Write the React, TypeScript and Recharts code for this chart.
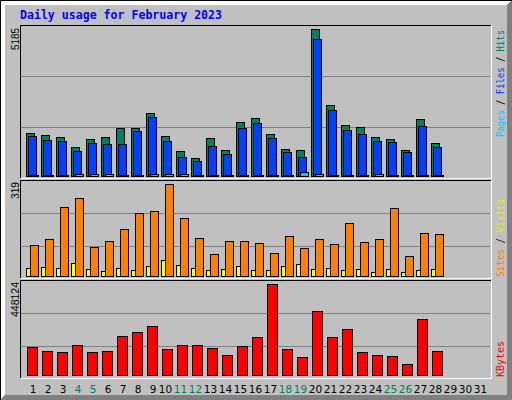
import { BarChart, Bar, XAxis, YAxis, CartesianGrid } from "recharts";

const days = [
  "1", "2", "3", "4", "5", "6", "7", "8", "9", "10", "11", "12", "13", "14", "15", "16",
  "17", "18", "19", "20", "21", "22", "23", "24", "25", "26", "27", "28", "29", "30", "31",
];
const weekendDays = ["4", "5", "11", "12", "18", "19", "25", "26"];

const hits = [1506, 1435, 1365, 1012, 1294, 1365, 1682, 1682, 2211, 1400, 871, 624, 1330, 906, 1894, 2035, 1471, 942, 906, 5185, 2494, 1788, 1718, 1365, 1294, 906, 2000, 1153];
const files = [1376, 1259, 1224, 871, 1153, 1118, 1118, 1577, 2070, 1224, 660, 518, 1047, 765, 1682, 1859, 1330, 836, 660, 4821, 2317, 1612, 1471, 1224, 1189, 836, 1753, 1012];
const pages = [30, 30, 30, 70, 70, 70, 30, 30, 70, 70, 70, 30, 30, 30, 30, 30, 30, 30, 106, 70, 30, 30, 30, 70, 30, 30, 30, 30];
const visits = [25, 29, 25, 43, 22, 15, 25, 18, 32, 53, 36, 25, 18, 22, 32, 18, 18, 32, 39, 22, 25, 18, 22, 12, 22, 12, 18, 22];
const sites = [105, 126, 236, 270, 98, 119, 160, 218, 225, 319, 201, 129, 74, 119, 119, 112, 77, 136, 95, 126, 109, 181, 115, 126, 233, 67, 147, 143];
const kbytes = [134512, 114873, 109825, 144260, 110130, 114902, 188610, 208345, 237920, 124770, 144310, 143985, 129640, 95210, 139380, 183770, 448124, 124930, 85260, 311870, 183950, 223140, 109760, 95080, 90150, 50930, 272410, 114880];

const maxHits = 5185;
const maxVisits = 319;
const maxKbytes = 448124;

const data = days.map((day, i) => ({
  day,
  hits: hits[i],
  files: files[i],
  pages: pages[i],
  visits: visits[i],
  sites: sites[i],
  kbytes: kbytes[i],
}));

const C_HITS = "#00805c";
const C_FILES = "#0040ff";
const C_PAGES = "#00c8ff";
const C_VISITS = "#ffff00";
const C_SITES = "#ff8000";
const C_KBYTES = "#ff0000";
const GRID = "#808080";

function DayTick({ x, y, payload }: any) {
  const label = String(payload.value);
  const dx = label.length === 1 ? 1.5 : -1;
  return (
    <text
      x={x + dx}
      y={y + 18}
      textAnchor="middle"
      fontFamily="DejaVu Sans"
      fontSize={10.5}
      fill={weekendDays.includes(label) ? C_HITS : "#000"}
    >
      {label}
    </text>
  );
}

function UpText({ x, y, anchor, len, children, size = 10, family = "DejaVu Sans Mono" }: any) {
  return (
    <text
      transform={`translate(${x},${y}) rotate(-90)`}
      textAnchor={anchor}
      textLength={len}
      lengthAdjust="spacingAndGlyphs"
      fontFamily={family}
      fontSize={size}
    >
      {children}
    </text>
  );
}

function Frame({ top, bottom }: { top: number; bottom: number }) {
  return (
    <g shapeRendering="crispEdges">
      <line x1={20} y1={top + 0.5} x2={491} y2={top + 0.5} stroke="#000" />
      <line x1={20.5} y1={top} x2={20.5} y2={bottom} stroke="#000" />
      <line x1={491.5} y1={top} x2={491.5} y2={bottom + 1} stroke="#fff" />
      <line x1={21} y1={bottom + 0.5} x2={492} y2={bottom + 0.5} stroke="#fff" />
    </g>
  );
}

export default function App() {
  return (
    <div style={{ position: "relative", width: 512, height: 400, background: "#c0c0c0", overflow: "hidden" }}>
      <style>{"body{margin:0} .recharts-rectangle,.recharts-cartesian-grid line{shape-rendering:crispEdges}"}</style>
      <svg width={512} height={400} style={{ position: "absolute", left: 0, top: 0 }}>
        <polygon points="0,0 512,0 507,5 5,5" fill="#fff" />
        <polygon points="0,0 5,5 5,395 0,400" fill="#fff" />
        <polygon points="512,0 512,400 507,395 507,5" fill="#808080" />
        <polygon points="0,400 512,400 507,395 5,395" fill="#808080" />
        <line x1={0} y1={0.5} x2={512} y2={0.5} stroke="#000" />
        <line x1={0.5} y1={0} x2={0.5} y2={400} stroke="#000" />

        <text x={20} y={19} fill="#0000ff" fontFamily="DejaVu Sans Mono" fontWeight="bold" fontSize={12} textLength={202} lengthAdjust="spacingAndGlyphs">
          Daily usage for February 2023
        </text>

        <Frame top={25} bottom={178} />
        <Frame top={180} bottom={278} />
        <Frame top={280} bottom={378} />

        <UpText x={19} y={28} anchor="end" len={22} size={11} family="Liberation Sans">{String(maxHits)}</UpText>
        <UpText x={19} y={182} anchor="end" len={17} size={11} family="Liberation Sans">{String(maxVisits)}</UpText>
        <UpText x={19} y={282} anchor="end" len={35} size={11} family="Liberation Sans">{String(maxKbytes)}</UpText>

        <UpText x={503.5} y={137} anchor="start" len={107}>
          <tspan fill={C_PAGES}>Pages</tspan>
          <tspan fill="#000"> / </tspan>
          <tspan fill={C_FILES}>Files</tspan>
          <tspan fill="#000"> / </tspan>
          <tspan fill={C_HITS}>Hits</tspan>
        </UpText>
        <UpText x={503.5} y={277} anchor="start" len={78}>
          <tspan fill={C_SITES}>Sites</tspan>
          <tspan fill="#000"> / </tspan>
          <tspan fill="#eeee00">Visits</tspan>
        </UpText>
        <UpText x={503.5} y={377} anchor="start" len={36}>
          <tspan fill={C_KBYTES}>KBytes</tspan>
        </UpText>
      </svg>

      <div style={{ position: "absolute", left: 20, top: 25 }}>
        <BarChart width={471} height={153} data={data} margin={{ top: 4, right: 2, bottom: 2, left: 4 }} barSize={8} barGap={-6}>
          <CartesianGrid vertical={false} horizontalPoints={[51.5, 102.5]} x={1} width={469} stroke={GRID} />
          <XAxis dataKey="day" hide />
          <YAxis hide domain={[0, maxHits]} />
          <Bar dataKey="hits" fill={C_HITS} stroke="#000" isAnimationActive={false} />
          <Bar dataKey="files" fill={C_FILES} stroke="#000" isAnimationActive={false} />
          <Bar dataKey="pages" fill={C_PAGES} stroke="#000" isAnimationActive={false} />
        </BarChart>
      </div>

      <div style={{ position: "absolute", left: 20, top: 180 }}>
        <BarChart width={471} height={99} data={data} margin={{ top: 4, right: 2, bottom: 3, left: 4 }} barSize={8} barGap={-4}>
          <CartesianGrid vertical={false} horizontalPoints={[33.5, 66.5]} x={1} width={469} stroke={GRID} />
          <XAxis dataKey="day" hide />
          <YAxis hide domain={[0, maxVisits]} />
          <Bar dataKey="visits" fill={C_VISITS} stroke="#000" isAnimationActive={false} />
          <Bar dataKey="sites" fill={C_SITES} stroke="#000" isAnimationActive={false} />
        </BarChart>
      </div>

      <div style={{ position: "absolute", left: 20, top: 280 }}>
        <BarChart width={471} height={120} data={data} margin={{ top: 4, right: 2, bottom: 5, left: 4 }} barSize={10}>
          <CartesianGrid vertical={false} horizontalPoints={[33.5, 66.5]} x={1} width={469} stroke={GRID} />
          <XAxis
            dataKey="day"
            height={20}
            axisLine={false}
            tickLine={false}
            tickSize={0}
            tickMargin={0}
            interval={0}
            tick={<DayTick />}
          />
          <YAxis hide domain={[0, maxKbytes]} />
          <Bar dataKey="kbytes" fill={C_KBYTES} stroke="#000" isAnimationActive={false} />
        </BarChart>
      </div>
    </div>
  );
}
